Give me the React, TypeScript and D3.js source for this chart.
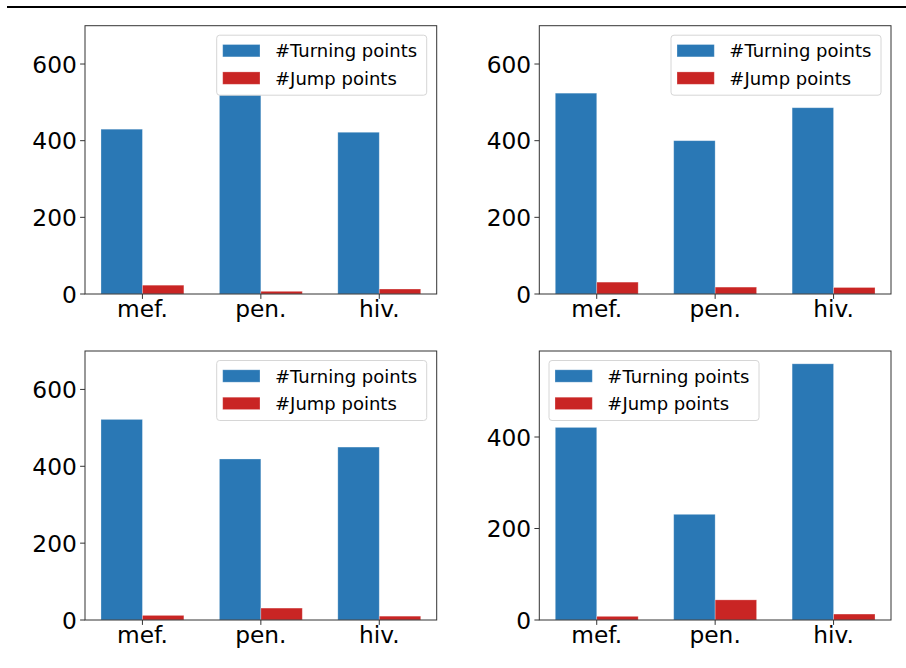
import React from "react";
import * as d3 from "d3";

const categories = ["mef.", "pen.", "hiv."];
const seriesNames = ["#Turning points", "#Jump points"];
const turning = [
  [430, 560, 422],
  [524, 400, 486],
  [522, 419, 450],
  [421, 231, 560],
];
const jump = [
  [23, 7, 13],
  [31, 18, 17],
  [12, 31, 10],
  [8, 44, 13],
];
const yMaxes = [700, 700, 700, 588];
const yTicks = [
  [0, 200, 400, 600],
  [0, 200, 400, 600],
  [0, 200, 400, 600],
  [0, 200, 400],
];
const legendPos = ["right", "right", "right", "left"];

const colors = ["#2a78b5", "#c92524"];

const panels = [
  { left: 85, top: 25.7, right: 436.7, bottom: 294 },
  { left: 539.3, top: 25.7, right: 891, bottom: 294 },
  { left: 85, top: 351, right: 436.7, bottom: 620 },
  { left: 539.3, top: 351, right: 891, bottom: 620 },
];

const FONT = "'DejaVu Sans', sans-serif";

function Panel({ idx }: { idx: number }) {
  const p = panels[idx];
  const barW = 0.35;
  const x = d3.scaleLinear().domain([-0.485, 2.485]).range([p.left, p.right]);
  const y = d3.scaleLinear().domain([0, yMaxes[idx]]).range([p.bottom, p.top]);
  const data = [turning[idx], jump[idx]];
  const legW = 210;
  const legH = 60;
  const legX = legendPos[idx] === "right" ? p.right - 10 - legW : p.left + 9.7;
  const legY = p.top + 9.5;
  return (
    <g>
      {data.map((vals, s) =>
        vals.map((v, i) => {
          const x0 = x(i - barW + s * barW);
          const x1 = x(i + s * barW);
          return (
            <rect
              key={`${s}-${i}`}
              x={x0}
              y={y(v)}
              width={x1 - x0}
              height={y(0) - y(v)}
              fill={colors[s]}
              stroke="#ffffff"
              strokeOpacity={0.35}
              strokeWidth={0.8}
            />
          );
        })
      )}
      <rect
        x={p.left}
        y={p.top}
        width={p.right - p.left}
        height={p.bottom - p.top}
        fill="none"
        stroke="#333"
        strokeWidth={1}
      />
      {yTicks[idx].map((t) => (
        <g key={t}>
          <line x1={p.left - 4.9} x2={p.left} y1={y(t)} y2={y(t)} stroke="#333" strokeWidth={1} />
          <text
            x={p.left - 8.2}
            y={y(t)}
            textAnchor="end"
            dominantBaseline="central"
            fontFamily={FONT}
            fontSize={23.3}
            fill="#000"
          >
            {t}
          </text>
        </g>
      ))}
      {categories.map((c, i) => (
        <g key={c}>
          <line x1={x(i)} x2={x(i)} y1={p.bottom} y2={p.bottom + 4.9} stroke="#333" strokeWidth={1} />
          <text
            x={x(i)}
            y={p.bottom + 23.2}
            textAnchor="middle"
            fontFamily={FONT}
            fontSize={23.3}
            fill="#000"
          >
            {c}
          </text>
        </g>
      ))}
      <g>
        <rect
          x={legX}
          y={legY}
          width={legW}
          height={legH}
          rx={3}
          fill="#fff"
          fillOpacity={1}
          stroke="#d6d6d6"
          strokeWidth={1}
        />
        {seriesNames.map((n, s) => (
          <g key={n}>
            <rect
              x={legX + 6}
              y={legY + 9.3 + s * 27.4}
              width={37.3}
              height={12.4}
              fill={colors[s]}
              stroke="#ffffff"
              strokeOpacity={0.35}
              strokeWidth={0.8}
            />
            <text
              x={legX + 58.3}
              y={legY + 15.5 + s * 27.4}
              dominantBaseline="central"
              fontFamily={FONT}
              fontSize={18}
              fill="#000"
            >
              {n}
            </text>
          </g>
        ))}
      </g>
    </g>
  );
}

export default function App() {
  return (
    <svg
      width={906}
      height={668}
      style={{ position: "absolute", left: 0, top: 0, background: "#fff" }}
    >
      <rect x={0} y={0} width={906} height={668} fill="#fff" />
      <line x1={7} x2={906} y1={7} y2={7} stroke="#000" strokeWidth={2} />
      {panels.map((_, i) => (
        <Panel key={i} idx={i} />
      ))}
    </svg>
  );
}
